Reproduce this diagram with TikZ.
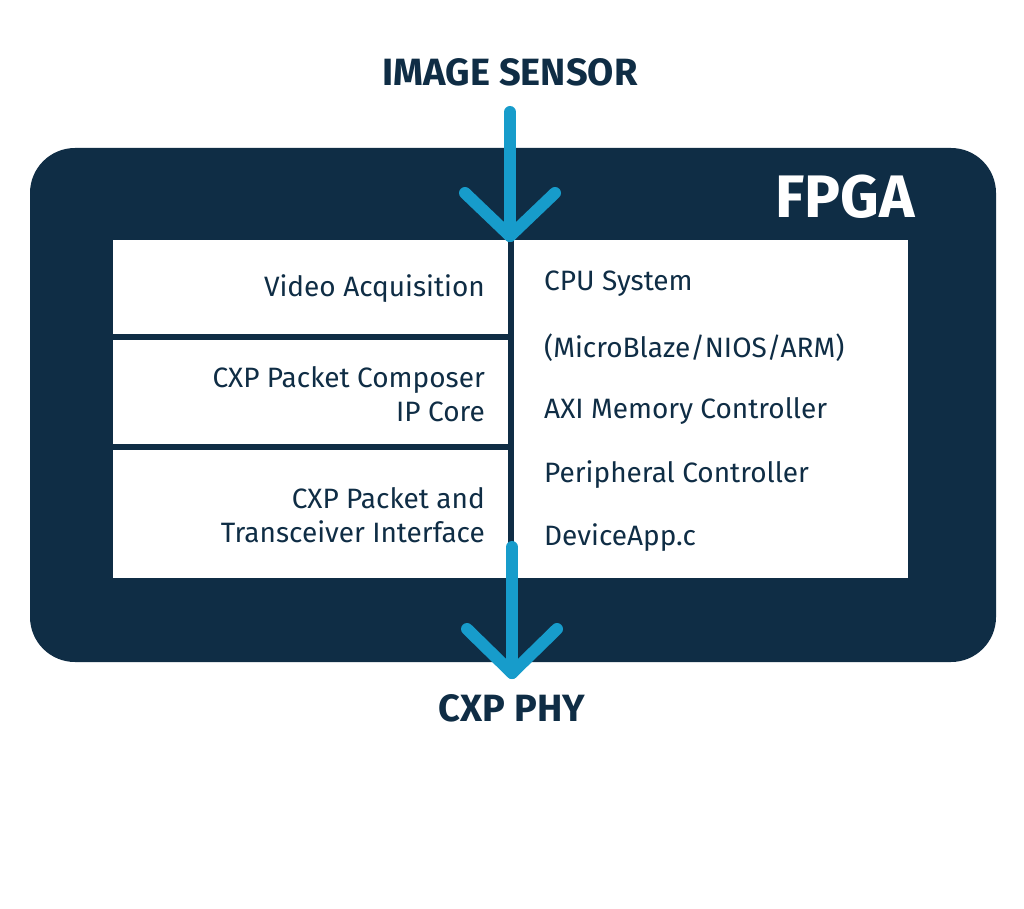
\documentclass[tikz,border=0pt]{standalone}
\usepackage{fontspec}
\setmainfont{Fira Sans}
\definecolor{navy}{HTML}{0F2D45}
\definecolor{cyanar}{HTML}{179CCB}
\begin{document}
\begin{tikzpicture}[x=1pt,y=-1pt,
  lbl/.style={font=\fontsize{28}{34}\selectfont,text=navy,inner sep=0pt},
  ttl/.style={font=\fontsize{38}{44}\selectfont\bfseries,text=navy,inner sep=0pt},
  arr/.style={draw=cyanar,line width=12pt,line cap=round,line join=round}]
\useasboundingbox[fill=white] (0,0) rectangle (1024,909);
\node[draw=none,fill=navy,rounded corners=45pt,minimum width=966pt,minimum height=514pt,inner sep=0pt] (fpga) at (513,405) {};
\node[fill=white,minimum width=795pt,minimum height=338pt,inner sep=0pt] (panel) at (510.5,409) {};
\draw[navy,line width=6pt] (511,240) -- (511,578);
\draw[navy,line width=6pt] (113,337) -- (511,337);
\draw[navy,line width=6pt] (113,447) -- (511,447);
\node[font=\fontsize{60}{70}\selectfont\bfseries,text=white,anchor=east,inner sep=0pt] (fl) at (915,197) {FPGA};
\node[ttl] (sensor) at (510,72) {IMAGE SENSOR};
\node[ttl] (phy) at (512,708) {CXP PHY};
\node[lbl,anchor=east] (va) at (485,289) {Video Acquisition};
\node[lbl,anchor=east,align=right] (pc) at (485,394) {CXP Packet Composer\\IP Core};
\node[lbl,anchor=east,align=right] (ti) at (485,515.5) {CXP Packet and\\Transceiver Interface};
\node[lbl,anchor=west] (r1) at (544,284) {CPU System};
\node[lbl,anchor=west] (r2) at (544,348) {(MicroBlaze/NIOS/ARM)};
\node[lbl,anchor=west] (r3) at (544,411) {AXI Memory Controller};
\node[lbl,anchor=west] (r4) at (544,475) {Peripheral Controller};
\node[lbl,anchor=west] (r5) at (544,538) {DeviceApp.c};
\coordinate (a1s) at (510,112); \coordinate (a1e) at (510,236);
\coordinate (b1s) at (512,547); \coordinate (b1e) at (512,673);
\draw[arr] (a1s) -- (a1e);
\draw[arr] (465,193) -- (a1e) -- (555,193);
\draw[arr] (b1s) -- (b1e);
\draw[arr] (467,629) -- (b1e) -- (557,629);
\end{tikzpicture}
\end{document}
